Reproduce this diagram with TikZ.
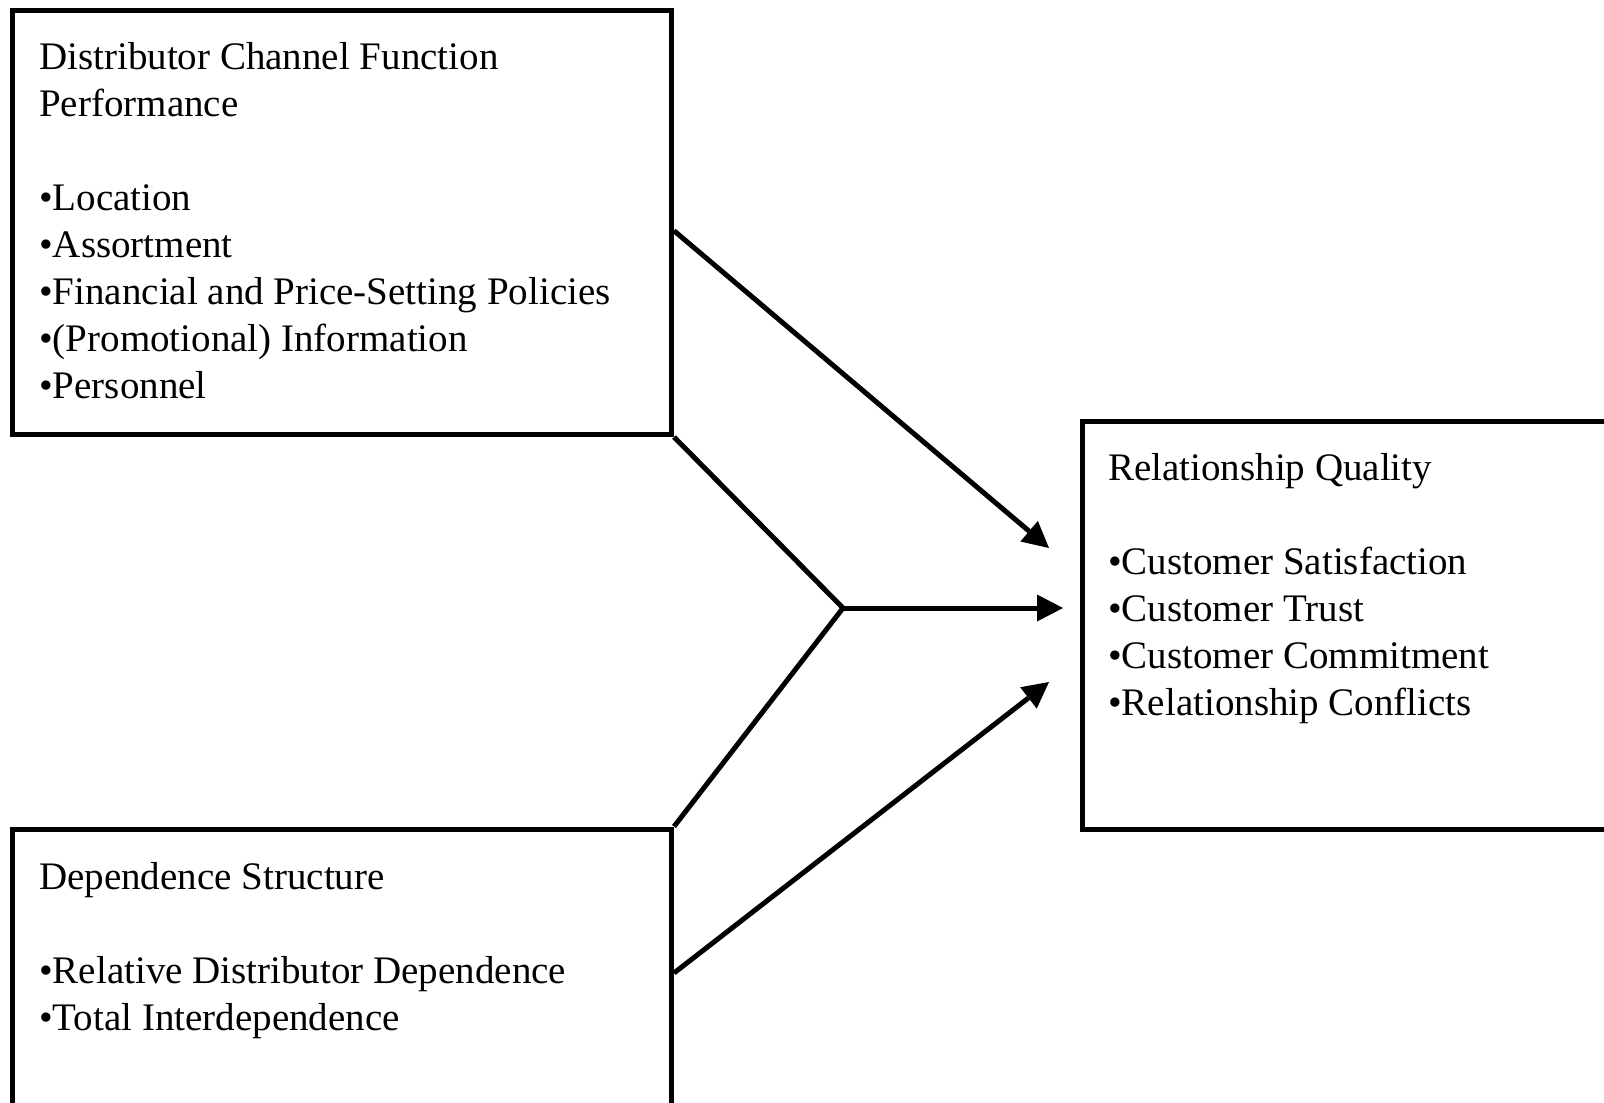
\documentclass[tikz,border=0pt]{standalone}
\usepackage{fontspec}
\setmainfont{Liberation Serif}
\usetikzlibrary{arrows.meta,calc}
\tikzset{
  boxrect/.style={draw, line width=5.5pt, rectangle, inner sep=0pt, anchor=north west},
  boxtext/.style={inner sep=0pt, anchor=base west, font=\fontsize{39}{47}\selectfont},
  conn/.style={line width=5pt, line join=miter},
  arr/.style={conn, -{Triangle[length=26pt,width=27pt,line width=0pt]}},
}
\begin{document}
\begin{tikzpicture}[x=1pt,y=-1pt]
\useasboundingbox (0,0) rectangle (1604,1103);
\clip (0,0) rectangle (1604,1103);
% boxes
\node[boxrect, minimum width=659pt, minimum height=424pt] (dcf) at (9.5,7.5) {};
\node[boxrect, minimum width=659pt, minimum height=278.5pt] (dep) at (9.5,826.5) {};
\node[boxrect, minimum width=560pt, minimum height=408pt] (rq) at (1079.5,418.5) {};
% texts
\node[boxtext] (dcftxt) at (39,69) {\begin{tabular}[t]{@{}l@{}}Distributor Channel Function\\Performance\\ \\•Location\\•Assortment\\•Financial and Price-Setting Policies\\•(Promotional) Information\\•Personnel\end{tabular}};
\node[boxtext] (deptxt) at (39,889) {\begin{tabular}[t]{@{}l@{}}Dependence Structure\\ \\•Relative Distributor Dependence\\•Total Interdependence\end{tabular}};
\node[boxtext] (rqtxt) at (1108,480) {\begin{tabular}[t]{@{}l@{}}Relationship Quality\\ \\•Customer Satisfaction\\•Customer Trust\\•Customer Commitment\\•Relationship Conflicts\end{tabular}};
% connectors
\coordinate (t1) at (1049,548);
\coordinate (j) at (843,608);
\coordinate (t3) at (1049,682);
\draw[arr] ([yshift=-8.5pt]dcf.east) -- (t1);
\draw[conn] (dcf.south east) -- (j) -- (dep.north east);
\draw[arr] (j) -- ([xshift=-16.5pt]rq.west |- j);
\draw[arr] ([yshift=-146.5pt]dep.north east) -- (t3);
\end{tikzpicture}
\end{document}
